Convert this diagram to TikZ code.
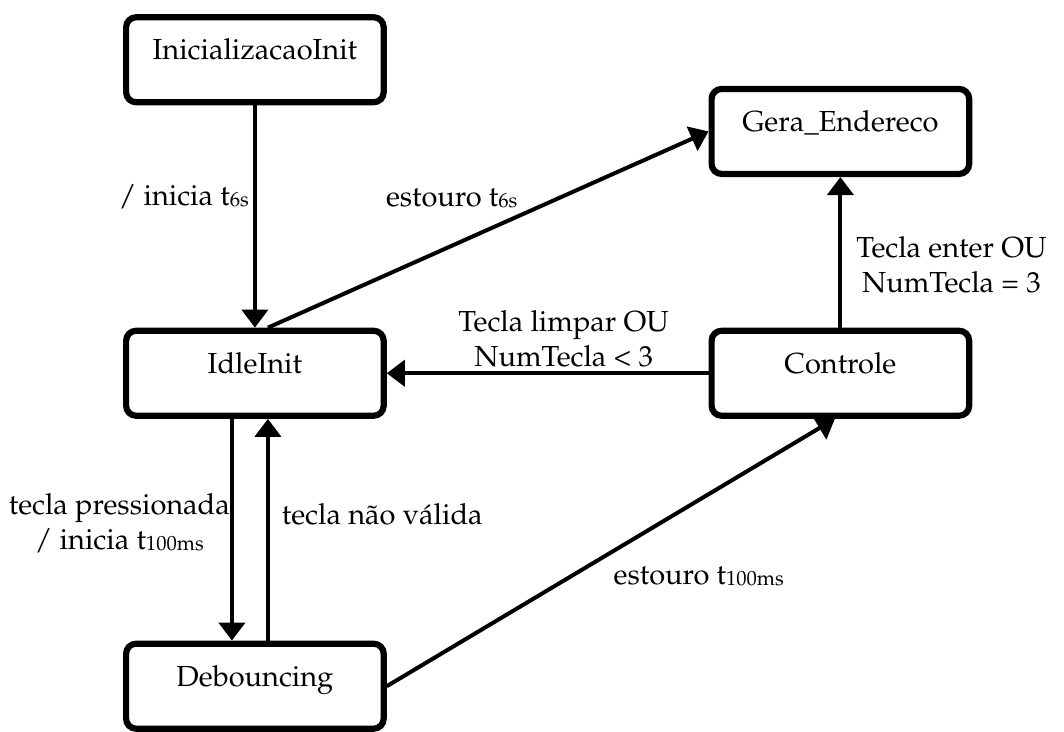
\documentclass[tikz,border=0pt]{standalone}
\usepackage[T1]{fontenc}
\usepackage{mathpazo}
\usepackage{xcolor}
\usepackage{tikz}
\usetikzlibrary{arrows.meta}

% pedice del timer, piu' piccolo e quasi sulla linea di base
\newcommand{\tidx}[1]{\raisebox{-0.5pt}{\fontsize{10.3pt}{12pt}\selectfont #1}}

\begin{document}
\begin{tikzpicture}[
    % Stili comuni per stati, transizioni ed etichette.
    edge/.style={draw, line width=2pt, -{Triangle[length=9pt, width=13pt]}},
    every node/.style={font=\fontsize{14.5pt}{17.5pt}\selectfont, align=center},
    edge label/.style={inner sep=2pt},
    state box/.style={rectangle, draw, line width=3.1pt, rounded corners=5pt,
        minimum width=128.8pt, minimum height=42.5pt, text height=9pt, text depth=9pt}
]
\useasboundingbox (0,0) rectangle (18.70,-12.85);

% Stati della macchina, posizionati a mano.
\node[state box] (init) at (4.48, -1.05)  {InicializacaoInit};
\node[state box] (idle) at (4.48, -6.56)  {IdleInit};
\node[state box] (deb)  at (4.48, -12.06) {Debouncing};
\node[state box] (gera) at (14.77, -2.31) {Gera\_Endereco};
\node[state box] (ctrl) at (14.77, -6.56) {Controle};

% Transizioni con le rispettive condizioni.
\draw[edge] (init) -- node[edge label, left, pos=0.41] {/ inicia t\tidx{6s}} (idle);
\draw[edge] ([xshift=6.5pt]idle.north) -- node[edge label, anchor=south east, pos=0.58] {estouro t\tidx{6s}} (gera.west);

\draw[edge] ([xshift=-11.5pt]idle.south) -- node[edge label, left, pos=0.47, inner sep=0pt] {tecla pressionada\\/ inicia t\tidx{100ms}} ([xshift=-11.5pt]deb.north);
\draw[edge] ([xshift=6.5pt]deb.north) -- node[edge label, right, pos=0.57, inner sep=6pt] {tecla n\~ao v\'alida} ([xshift=6.5pt]idle.south);

\draw[edge] (ctrl) -- node[edge label, above, pos=0.45] {Tecla limpar OU\\NumTecla < 3} (idle);
\draw[edge] (ctrl) -- node[edge label, right, pos=0.42, inner sep=7pt] {Tecla enter OU\\NumTecla = 3} (gera);
\draw[edge] (deb.east) -- node[edge label, anchor=north west, pos=0.484, inner sep=4pt] {estouro t\tidx{100ms}} ([xshift=-2.75pt]ctrl.south);
\end{tikzpicture}
\end{document}
